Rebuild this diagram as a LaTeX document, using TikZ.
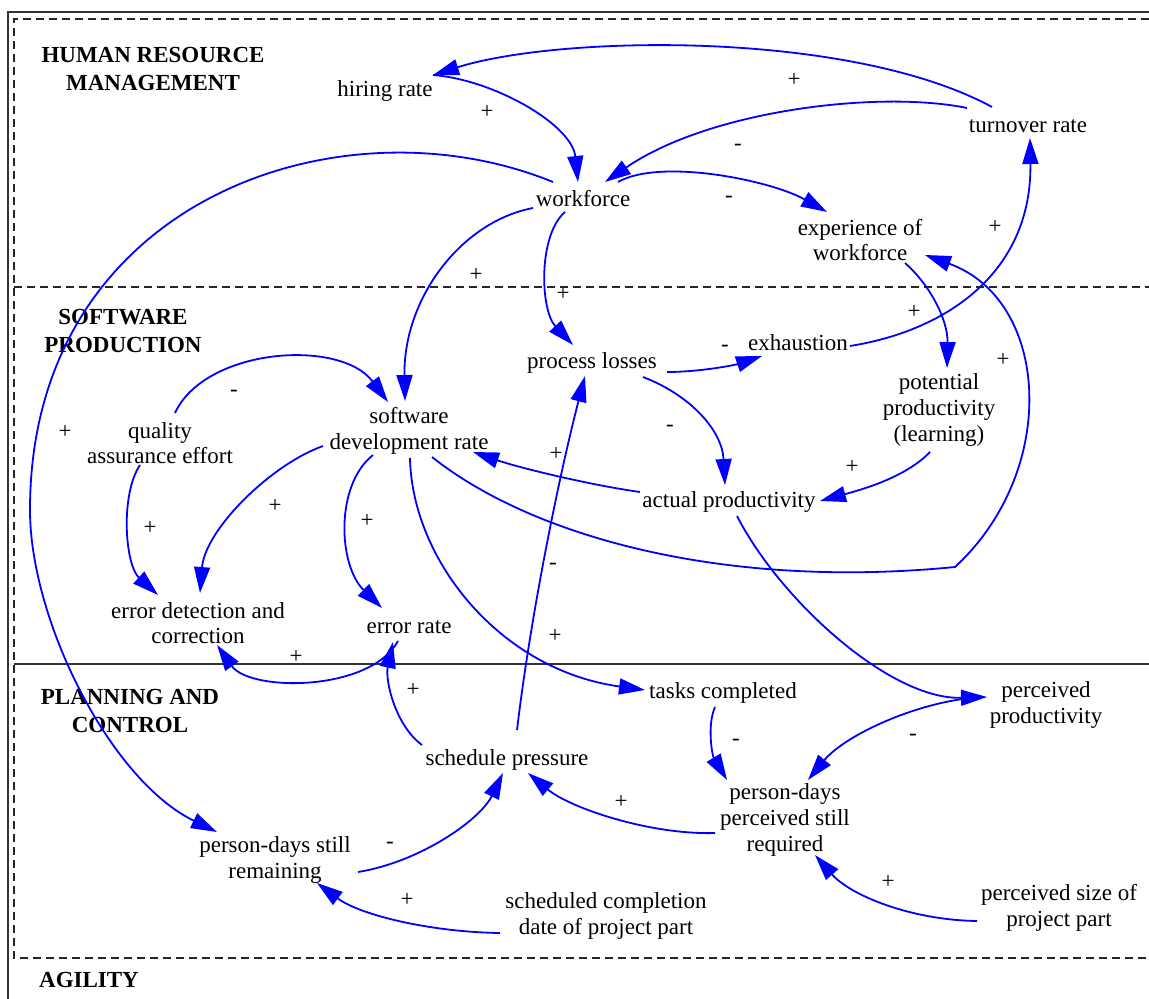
\documentclass[tikz,border=0pt]{standalone}
\usepackage{fontspec}
\setmainfont{Liberation Serif}
\usetikzlibrary{arrows.meta}
\begin{document}
\begin{tikzpicture}[x=0.5pt,y=-0.5pt,
  lbl/.style={font=\fontsize{11.5}{12.8}\selectfont, align=center, inner sep=0pt},
  hdr/.style={font=\fontsize{11.5}{14}\selectfont\bfseries, align=center, inner sep=0pt},
  sgn/.style={font=\fontsize{11.5}{12.8}\selectfont, inner sep=0pt},
  link/.style={draw=blue, line width=0.9pt, -{Triangle[length=13pt,width=8pt]}},
  frameline/.style={draw=black!80, line width=0.7pt},
  dframe/.style={draw=black!85, line width=0.6pt, dash pattern=on 4pt off 2.5pt}]
\useasboundingbox (0,0) rectangle (1149,999);
% frames
\draw[frameline] (8,999) -- (8,12) -- (1149,12);
\draw[dframe] (1149,19) -- (14,19) -- (14,958) -- (1149,958);
\draw[dframe] (14,287) -- (1149,287);
\draw[frameline] (14,664) -- (1149,664);
% headers
\node[hdr] (hHRM) at (153,69) {HUMAN RESOURCE\\MANAGEMENT};
\node[hdr] (hSP) at (123,331) {SOFTWARE\\PRODUCTION};
\node[hdr] (hPC) at (130,711) {PLANNING AND\\CONTROL};
\node[hdr] (hAG) at (89,980) {AGILITY};
% variables
\node[lbl] (hr) at (385,91) {hiring rate};
\node[lbl] (tr) at (1028,126) {turnover rate};
\node[lbl] (wf) at (583,199) {workforce};
\node[lbl] (exp) at (860,240) {experience of\\workforce};
\node[lbl] (pl) at (592,363) {process losses};
\node[lbl] (exh) at (798,343) {exhaustion};
\node[lbl] (pot) at (939,410) {potential\\productivity\\(learning)};
\node[lbl] (sdr) at (409,431) {software\\development rate};
\node[lbl] (qa) at (160,443) {quality\\assurance effort};
\node[lbl] (ap) at (729,502) {actual productivity};
\node[lbl] (edc) at (198,623) {error detection and\\correction};
\node[lbl] (er) at (409,627) {error rate};
\node[lbl] (tc) at (723,693) {tasks completed};
\node[lbl] (pp) at (1046,705) {perceived\\productivity};
\node[lbl] (sp) at (507,760) {schedule pressure};
\node[lbl] (pdpsr) at (785,820) {person-days\\perceived still\\required};
\node[lbl] (pdsr) at (275,860) {person-days still\\remaining};
\node[lbl] (scd) at (606,916) {scheduled completion\\date of project part};
\node[lbl] (psize) at (1059,908) {perceived size of\\project part};
% links
\draw[link] ([shift={(48,-16)}]hr.center) .. controls (495,80) and (572,125) .. ([shift={(-5,-17)}]wf.center);
\draw[link] ([shift={(-36,-19)}]tr.center) .. controls (850,30) and (560,35) .. ([shift={(48,-16)}]hr.center);
\draw[link] ([shift={(-61,-18)}]tr.center) .. controls (880,90) and (710,110) .. ([shift={(22,-17)}]wf.center);
\draw[link] ([shift={(35,-17)}]wf.center) .. controls (660,158) and (770,180) .. ([shift={(-33,-28)}]exp.center);
\draw[link] ([shift={(-30,-17)}]wf.center) .. controls (340,95) and (30,200) .. (30,510) .. controls (30,620) and (110,780) .. ([shift={(-58,-28)}]pdsr.center);
\draw[link] ([shift={(-50,9)}]wf.center) .. controls (460,222) and (403,300) .. ([shift={(-4,-30)}]sdr.center);
\draw[link] ([shift={(-18,13)}]wf.center) .. controls (538,235) and (540,310) .. ([shift={(-19,-18)}]pl.center);
\draw[link] ([shift={(45,23)}]exp.center) .. controls (930,285) and (948,320) .. ([shift={(8,-42)}]pot.center);
\draw[link] ([shift={(52,3)}]exh.center) .. controls (950,330) and (1032,270) .. ([shift={(2,12)}]tr.center);
\draw[link] ([shift={(75,9)}]pl.center) .. controls (700,372) and (735,365) .. ([shift={(-36,13)}]exh.center);
\draw[link] ([shift={(51,14)}]pl.center) .. controls (690,395) and (722,430) .. ([shift={(-4,-17)}]ap.center);
\draw[link] ([shift={(-9,42)}]pot.center) .. controls (905,478) and (860,490) .. ([shift={(91,-1)}]ap.center);
\draw[link] ([shift={(-89,-10)}]ap.center) .. controls (590,485) and (520,468) .. ([shift={(64,21)}]sdr.center);
\draw[link] ([shift={(23,26)}]sdr.center) .. controls (530,535) and (720,590) .. (955,567) .. controls (1060,470) and (1050,300) .. ([shift={(65,15)}]exp.center);
\draw[link] ([shift={(-86,15)}]sdr.center) .. controls (270,465) and (205,530) .. ([shift={(2,-30)}]edc.center);
\draw[link] ([shift={(-36,24)}]sdr.center) .. controls (335,485) and (338,565) .. ([shift={(-27,-19)}]er.center);
\draw[link] ([shift={(1,27)}]sdr.center) .. controls (412,560) and (500,670) .. ([shift={(-78,-3)}]tc.center);
\draw[link] ([shift={(15,-30)}]qa.center) .. controls (205,348) and (340,338) .. ([shift={(-21,-29)}]sdr.center);
\draw[link] ([shift={(-20,22)}]qa.center) .. controls (120,495) and (125,565) .. ([shift={(-40,-28)}]edc.center);
\draw[link] ([shift={(-11,14)}]er.center) .. controls (370,692) and (250,692) .. ([shift={(19,22)}]edc.center);
\draw[link] ([shift={(-85,-15)}]sp.center) .. controls (395,725) and (385,680) .. ([shift={(-16,15)}]er.center);
\draw[link] ([shift={(10,-30)}]sp.center) .. controls (530,620) and (558,480) .. ([shift={(-7,13)}]pl.center);
\draw[link] ([shift={(-8,14)}]tc.center) .. controls (707,725) and (712,755) .. ([shift={(-58,-40)}]pdpsr.center);
\draw[link] ([shift={(8,14)}]ap.center) .. controls (780,600) and (890,700) .. ([shift={(-59,-8)}]pp.center);
\draw[link] ([shift={(-63,-8)}]pp.center) .. controls (920,700) and (845,735) .. ([shift={(23,-40)}]pdpsr.center);
\draw[link] ([shift={(-70,13)}]pdpsr.center) .. controls (650,835) and (570,808) .. ([shift={(21,13)}]sp.center);
\draw[link] ([shift={(83,12)}]pdsr.center) .. controls (420,862) and (480,820) .. ([shift={(-4,13)}]sp.center);
\draw[link] ([shift={(-106,17)}]scd.center) .. controls (430,932) and (360,915) .. ([shift={(42,23)}]pdsr.center);
\draw[link] ([shift={(-82,13)}]psize.center) .. controls (910,920) and (850,895) .. ([shift={(30,35)}]pdpsr.center);
% polarity signs
\node[sgn] (s1) at (487,112) {+};
\node[sgn] (s2) at (794,80) {+};
\node[sgn] (s3) at (738,147) {-};
\node[sgn] (s4) at (729,199) {-};
\node[sgn] (s5) at (476,275) {+};
\node[sgn] (s6) at (563,294) {+};
\node[sgn] (s7) at (995,227) {+};
\node[sgn] (s8) at (914,312) {+};
\node[sgn] (s9) at (1003,360) {+};
\node[sgn] (s10) at (725,348) {-};
\node[sgn] (s11) at (670,428) {-};
\node[sgn] (s12) at (852,467) {+};
\node[sgn] (s13) at (556,454) {+};
\node[sgn] (s14) at (234,393) {-};
\node[sgn] (s15) at (65,432) {+};
\node[sgn] (s16) at (275,506) {+};
\node[sgn] (s17) at (367,521) {+};
\node[sgn] (s18) at (150,528) {+};
\node[sgn] (s19) at (553,566) {-};
\node[sgn] (s20) at (555,636) {+};
\node[sgn] (s21) at (296,657) {+};
\node[sgn] (s22) at (413,690) {+};
\node[sgn] (s23) at (736,742) {-};
\node[sgn] (s24) at (913,737) {-};
\node[sgn] (s25) at (621,802) {+};
\node[sgn] (s26) at (390,845) {-};
\node[sgn] (s27) at (407,900) {+};
\node[sgn] (s28) at (888,882) {+};
\end{tikzpicture}
\end{document}
